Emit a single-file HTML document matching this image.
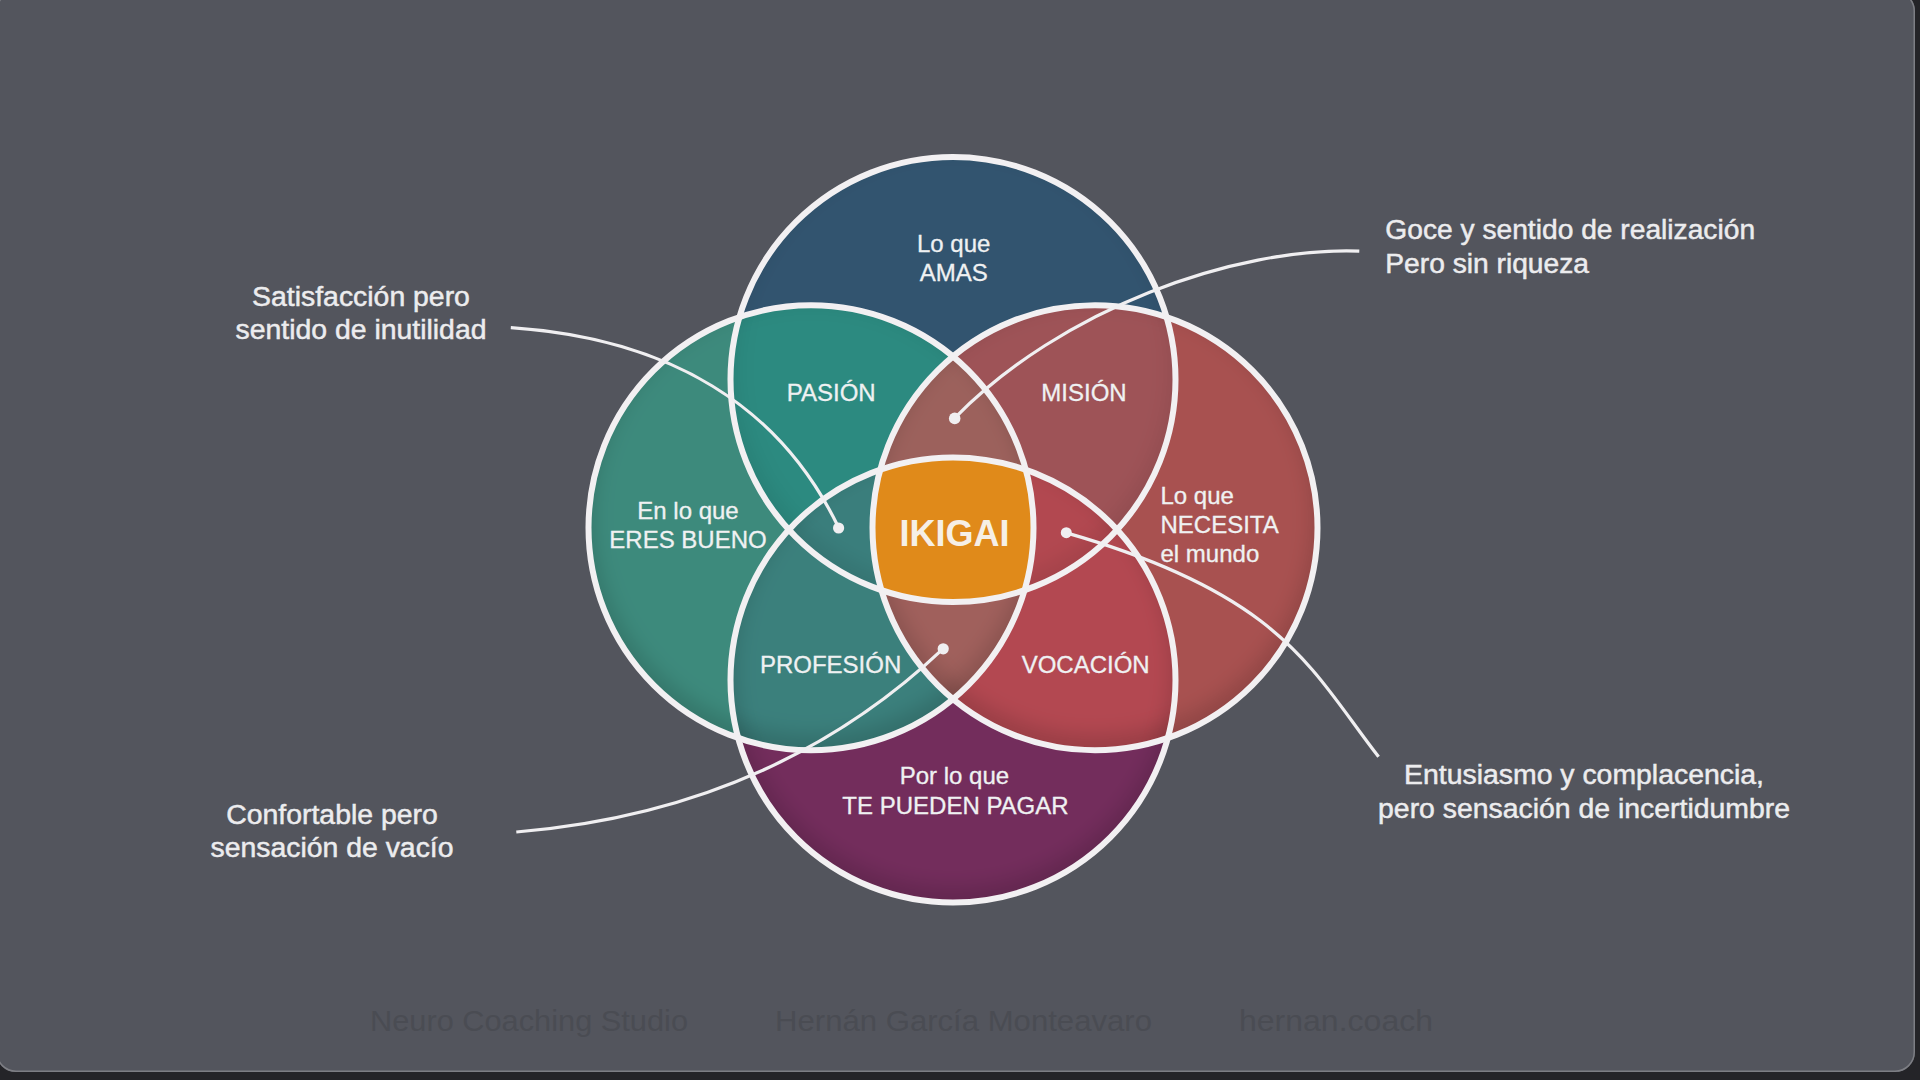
<!DOCTYPE html>
<html><head><meta charset="utf-8">
<style>
html,body{margin:0;padding:0;width:1920px;height:1080px;overflow:hidden;background:#242428;}
svg{display:block;font-family:"Liberation Sans",sans-serif;}
</style></head>
<body>
<svg width="1920" height="1080" viewBox="0 0 1920 1080">
<defs>
  <clipPath id="cT"><circle cx="953" cy="379.5" r="222.5"/></clipPath>
  <clipPath id="cL"><circle cx="811" cy="527.75" r="222.5"/></clipPath>
  <clipPath id="cR"><circle cx="1095" cy="527.75" r="222.5"/></clipPath>
  <clipPath id="cB"><circle cx="953" cy="680" r="222.5"/></clipPath>
  <filter id="blur8" x="-20%" y="-20%" width="140%" height="140%"><feGaussianBlur stdDeviation="10"/></filter>
</defs>
<!-- panel -->
<rect x="-4" y="-9" width="1919" height="1081" rx="20" ry="20" fill="#53555d"/>
<rect x="-3.25" y="-8.25" width="1917.5" height="1079.5" rx="19.25" ry="19.25" fill="none" stroke="#7d7e84" stroke-width="1.5"/>

<!-- base fills -->
<circle cx="953" cy="379.5" r="222.5" fill="#32546f"/>
<circle cx="953" cy="680" r="222.5" fill="#732d5c"/>
<circle cx="811" cy="527.75" r="222.5" fill="#3d8a7c"/>
<circle cx="1095" cy="527.75" r="222.5" fill="#a85150"/>
<!-- pair intersections -->
<g clip-path="url(#cT)"><circle cx="811" cy="527.75" r="222.5" fill="#2c8a80"/></g>
<g clip-path="url(#cT)"><circle cx="1095" cy="527.75" r="222.5" fill="#9e5357"/></g>
<g clip-path="url(#cB)"><circle cx="811" cy="527.75" r="222.5" fill="#3b807c"/></g>
<g clip-path="url(#cB)"><circle cx="1095" cy="527.75" r="222.5" fill="#b34851"/></g>
<!-- triples -->
<g clip-path="url(#cT)"><g clip-path="url(#cL)"><circle cx="1095" cy="527.75" r="222.5" fill="#9c615c"/></g></g>
<g clip-path="url(#cB)"><g clip-path="url(#cL)"><circle cx="1095" cy="527.75" r="222.5" fill="#a0605c"/></g></g>
<g clip-path="url(#cT)"><g clip-path="url(#cB)"><circle cx="811" cy="527.75" r="222.5" fill="#3a7e7c"/></g></g>
<g clip-path="url(#cT)"><g clip-path="url(#cB)"><circle cx="1095" cy="527.75" r="222.5" fill="#b24850"/></g></g>
<!-- inner shadows -->
<g fill="none" stroke="#000" stroke-opacity="0.14" stroke-width="40">
  <g clip-path="url(#cT)"><circle cx="953" cy="369.5" r="237.5" stroke-opacity="0.08" filter="url(#blur8)"/></g>
  <g clip-path="url(#cB)"><circle cx="953" cy="670" r="237.5" filter="url(#blur8)"/></g>
  <g clip-path="url(#cL)"><circle cx="811" cy="517.75" r="237.5" filter="url(#blur8)"/></g>
  <g clip-path="url(#cR)"><circle cx="1095" cy="517.75" r="237.5" filter="url(#blur8)"/></g>
</g>
<!-- quad -->
<g clip-path="url(#cT)"><g clip-path="url(#cB)"><g clip-path="url(#cL)"><circle cx="1095" cy="527.75" r="222.5" fill="#e08a1a"/></g></g></g>

<!-- strokes -->
<g fill="none" stroke="#f2f0f2" stroke-width="6">
  <circle cx="953" cy="379.5" r="222.5"/>
  <circle cx="953" cy="680" r="222.5"/>
  <circle cx="811" cy="527.75" r="222.5"/>
  <circle cx="1095" cy="527.75" r="222.5"/>
</g>
<!-- annotation curves -->
<g fill="none" stroke="#f0eff1" stroke-width="3.2">
  <path d="M 510.8 327.6 C 669.5 338.5 779.9 405.7 838.7 527.8"/>
  <path d="M 1359.3 251.1 C 1233.6 246.7 1060.7 309.5 954.9 417.9"/>
  <path d="M 516.3 832.0 C 687.4 817.7 830.1 755.8 943.2 648.7"/>
  <path d="M 1066.4 532.9 C 1283.7 595.0 1311.9 671.1 1378.6 756.8"/>
</g>
<g fill="#f0eff1">
  <circle cx="838.6" cy="528" r="5.6"/>
  <circle cx="954.7" cy="418.4" r="5.8"/>
  <circle cx="943.2" cy="648.8" r="5.6"/>
  <circle cx="1066.3" cy="532.7" r="5.5"/>
</g>

<!-- circle labels -->
<g fill="#eff1f2" stroke="#eff1f2" stroke-width="0.3" font-size="24" text-anchor="middle">
  <text x="953.7" y="251.6">Lo que</text>
  <text x="953.7" y="280.5">AMAS</text>
  <text x="831.2" y="401.1">PASIÓN</text>
  <text x="1084" y="401.2">MISIÓN</text>
  <text x="688" y="518.6">En lo que</text>
  <text x="688" y="548.1">ERES BUENO</text>
  <text x="830.6" y="672.5">PROFESIÓN</text>
  <text x="1085.7" y="672.5">VOCACIÓN</text>
  <text x="954.4" y="784.3">Por lo que</text>
  <text x="955.5" y="813.6">TE PUEDEN PAGAR</text>
</g>
<g fill="#eff1f2" stroke="#eff1f2" stroke-width="0.3" font-size="24">
  <text x="1160.5" y="504.2">Lo que</text>
  <text x="1160.5" y="533.3">NECESITA</text>
  <text x="1160.5" y="562">el mundo</text>
</g>
<text x="954.5" y="545.8" fill="#f6efe6" font-size="36" font-weight="bold" text-anchor="middle">IKIGAI</text>

<!-- annotations -->
<g fill="#ececee" stroke="#ececee" stroke-width="0.5" font-size="28.4" text-anchor="middle">
  <text x="361" y="305.6">Satisfacción pero</text>
  <text x="361" y="338.75">sentido de inutilidad</text>
  <text x="332" y="823.6">Confortable pero</text>
  <text x="332" y="857.3">sensación de vacío</text>
  <text x="1584" y="783.9">Entusiasmo y complacencia,</text>
  <text x="1584" y="817.6">pero sensación de incertidumbre</text>
</g>
<g fill="#ececee" stroke="#ececee" stroke-width="0.5" font-size="28.2">
  <text x="1385.3" y="239.4">Goce y sentido de realización</text>
  <text x="1385.3" y="272.7">Pero sin riqueza</text>
</g>

<!-- footer -->
<g fill="#4a4c53" font-size="29">
  <text x="370" y="1030.6" textLength="318" lengthAdjust="spacingAndGlyphs">Neuro Coaching Studio</text>
  <text x="775" y="1030.6" textLength="377" lengthAdjust="spacingAndGlyphs">Hernán García Monteavaro</text>
  <text x="1239" y="1031" textLength="194" lengthAdjust="spacingAndGlyphs">hernan.coach</text>
</g>
</svg>
</body></html>
